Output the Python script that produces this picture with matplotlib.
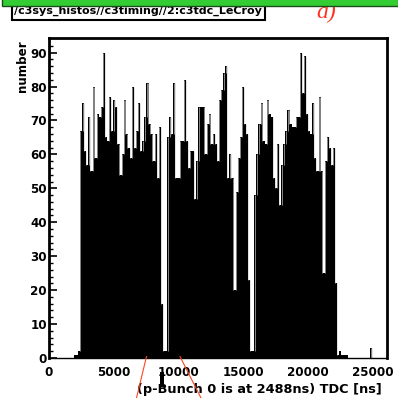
import numpy as np
import matplotlib
matplotlib.use("Agg")
import matplotlib.pyplot as plt
from matplotlib.patches import Rectangle
from matplotlib.lines import Line2D

# TDC histogram, 160 ns bins starting at 0
bin_width = 160

lead_in = [0, 0, 0, 0, 0, 0, 0, 0, 0, 0, 0, 0, 1, 1, 2]
train_1 = [67, 75, 61, 57, 71, 55, 80, 59, 72, 71, 74, 90, 65, 64, 77, 67, 76, 74, 63, 54,
           60, 76, 66, 62, 59, 80, 62, 67, 75, 61, 64, 71, 81, 69, 66, 58, 66, 53, 68]
gap_1 = [16, 2, 2]
train_2 = [65, 71, 66, 81, 53, 53, 64, 64, 82, 64, 56, 61, 61, 47, 58, 74, 74, 74, 60, 69,
           72, 63, 66, 63, 58, 76, 79, 84, 86, 53, 60, 53, 20, 49, 59, 65, 80, 69, 66]
gap_2 = [23, 2, 2]
train_3 = [48, 60, 69, 75, 64, 63, 76, 72, 71, 53, 50, 63, 45, 57, 63, 67, 73, 69, 68, 68,
           71, 71, 90, 78, 89, 72, 67, 66, 75, 59, 55, 77, 55, 25, 58, 65, 62, 57, 62]
tail = [22, 1, 2, 1, 1, 1, 0, 0, 0, 0, 0, 0, 0, 0, 0, 0, 0, 3, 0, 0, 0, 0, 0, 0, 0]

x_ticks = [0, 5000, 10000, 15000, 20000, 25000]
x_ticklabels = ["0", "5000", "10000", "15000", "20000", "25000"]
y_ticks = [0, 10, 20, 30, 40, 50, 60, 70, 80, 90]

title_text = "/c3sys_histos//c3timing//2:c3tdc_LeCroy"
x_title = "(p-Bunch 0 is at 2488ns) TDC [ns]"
y_title = "number"

counts = np.array(lead_in + train_1 + gap_1 + train_2 + gap_2 + train_3 + tail, dtype=float)
edges = np.arange(len(counts) + 1) * bin_width

font = "DejaVu Sans"

fig = plt.figure(figsize=(3.98, 3.98), dpi=100)
ax = fig.add_axes([49 / 398, 1 - 358 / 398, 338 / 398, 320 / 398])

ax.stairs(counts, edges, fill=True, color="black", linewidth=0)

# faint seams where neighbouring bins differ (the PS render look)
off = 25
for i in range(1, len(counts)):
    a, b = counts[i - 1], counts[i]
    if abs(a - b) > 1.5:
        x = edges[i] + (off if b > a else -off)
        ax.vlines(x, min(a, b), max(a, b), color="#d0d0d0", linewidth=0.45)

ax.set_xlim(0, edges[-1])
ax.set_ylim(0, 94.3)

for side in ["left", "top", "right"]:
    ax.spines[side].set_linewidth(2.0)
ax.spines["bottom"].set_linewidth(1.0)

ax.set_xticks(x_ticks)
ax.set_xticklabels(x_ticklabels)
ax.set_yticks(y_ticks)
ax.set_yticks(np.arange(0, 94, 2), minor=True)
ax.tick_params(axis="x", length=0, pad=6, labelsize=8.6)
ax.tick_params(axis="y", which="major", direction="in", length=6, width=1.2, pad=1.5, labelsize=8.6)
ax.tick_params(axis="y", which="minor", direction="in", length=3, width=1.0)
for lab in ax.get_xticklabels() + ax.get_yticklabels():
    lab.set_fontweight("bold")
    lab.set_family(font)

ax.text(0.985, -0.097, x_title, transform=ax.transAxes, ha="right", va="center",
        fontsize=9.3, fontweight="bold", family=font)
ax.text(-0.077, 0.994, y_title, transform=ax.transAxes, ha="center", va="top",
        rotation=90, fontsize=8.6, fontweight="bold", family=font)

# title box, its top hidden under the green bar
fig.patches.append(Rectangle((12 / 398, 1 - 20 / 398), 253 / 398, 20 / 398,
                             transform=fig.transFigure, facecolor="white",
                             edgecolor="black", linewidth=1.5, zorder=1))
fig.text(13.5 / 398, 1 - 13.5 / 398, title_text, ha="left", va="baseline",
         fontsize=8.0, fontweight="bold", family=font, zorder=2)
fig.text(326 / 398, 1 - 18 / 398, "a)", ha="center", va="baseline", color="#ff3322",
         fontsize=17, style="italic", family="Liberation Serif", zorder=2)
fig.patches.append(Rectangle((1.5 / 398, 1 - 6 / 398), 400 / 398, 10 / 398,
                             transform=fig.transFigure, facecolor="#33cc33",
                             edgecolor="#1a4d1a", linewidth=1.0, zorder=3))

# red pointer lines and cursor mark below the axis
for (x0, y0, x1, y1) in [(146.5, 356.5, 136.5, 398), (180, 356.5, 201, 398)]:
    fig.lines.append(Line2D([x0 / 398, x1 / 398], [1 - y0 / 398, 1 - y1 / 398],
                            transform=fig.transFigure, color="#ff4422", linewidth=0.8, zorder=5))
fig.patches.append(Rectangle((159.5 / 398, 1 - 387 / 398), 4 / 398, 15 / 398,
                             transform=fig.transFigure, facecolor="black",
                             edgecolor="none", zorder=5))

fig.savefig("out.png", dpi=100)
